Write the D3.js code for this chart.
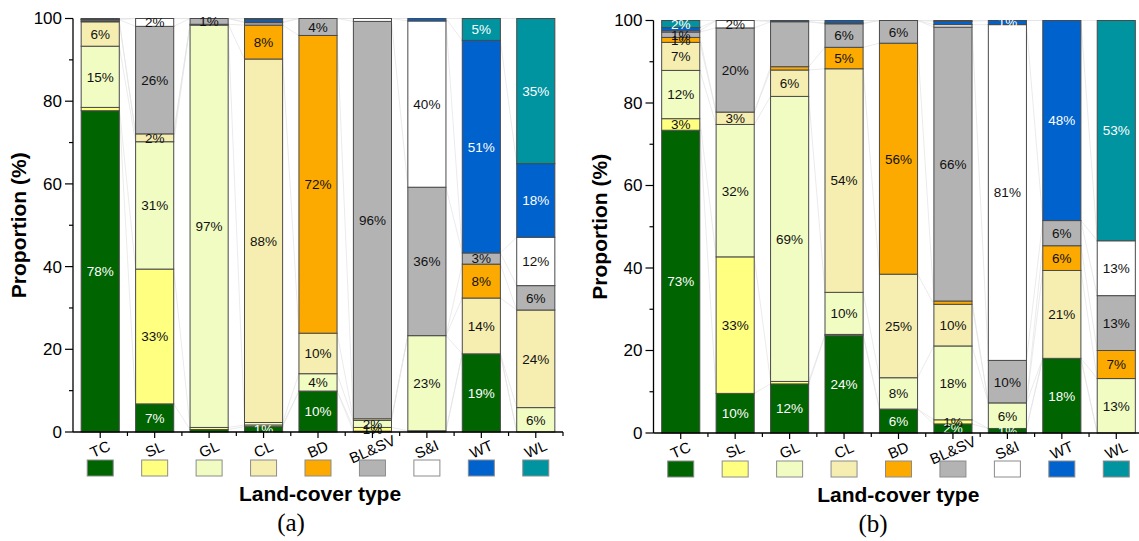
<!DOCTYPE html>
<html>
<head>
<meta charset="utf-8">
<script src="https://cdn.jsdelivr.net/npm/d3@7/dist/d3.min.js"></script>
<style>
  html, body { margin: 0; padding: 0; background: #fff; }
  svg { display: block; font-family: "Liberation Sans", Arial, sans-serif; }
</style>
</head>
<body>
<svg id="chart" width="1139" height="541"></svg>
<script>
// Land-cover classes (bars and stacked segments share the same order)
const types = ["TC", "SL", "GL", "CL", "BD", "BL&SV", "S&I", "WT", "WL"];
const colors = ["#006400", "#ffff80", "#f0fcc2", "#f5eeb0", "#fdaa00", "#b3b3b3", "#ffffff", "#0062cc", "#0093a0"];
const whiteText = ["TC", "WT", "WL"];
const yTicks = [0, 20, 40, 60, 80, 100];

// Panel (a): one row per bar, shares (%) of each class from bottom to top
const shareA = [
  [77.7, 0.8, 14.8, 5.9, 0.2, 0.3, 0.1, 0.1, 0.1],   // TC
  [6.8, 32.6, 30.8, 1.9, 0.0, 26.0, 1.9, 0.0, 0.0],  // SL
  [0.6, 0.5, 97.3, 0.2, 0.0, 1.4, 0.0, 0.0, 0.0],    // GL
  [1.3, 0.4, 0.6, 87.9, 8.2, 0.6, 0.2, 0.7, 0.1],    // CL
  [9.9, 0.0, 4.2, 9.8, 72.0, 4.1, 0.0, 0.0, 0.0],    // BD
  [0.2, 0.9, 1.7, 0.4, 0.0, 96.1, 0.7, 0.0, 0.0],    // BL&SV
  [0.3, 0.0, 23.0, 0.0, 0.0, 35.9, 40.2, 0.6, 0.0],  // S&I
  [18.9, 0.0, 0.0, 13.5, 8.2, 2.7, 0.0, 51.4, 5.3],  // WT
  [0.0, 0.0, 5.9, 23.6, 0.0, 5.9, 11.7, 17.8, 35.1]  // WL
];

// Panel (b)
const shareB = [
  [73.4, 2.8, 11.7, 6.8, 1.2, 1.3, 0.3, 0.8, 1.7],   // TC
  [9.6, 33.1, 32.1, 3.0, 0.0, 20.4, 1.8, 0.0, 0.0],  // SL
  [11.9, 0.6, 69.1, 6.4, 0.8, 10.9, 0.0, 0.3, 0.0],  // GL
  [23.6, 0.3, 10.2, 54.2, 5.2, 5.7, 0.2, 0.6, 0.0],  // CL
  [5.8, 0.0, 7.6, 25.1, 56.0, 5.5, 0.0, 0.0, 0.0],   // BD
  [2.2, 1.0, 17.9, 10.1, 0.8, 66.4, 0.6, 0.8, 0.2],  // BL&SV
  [1.1, 0.0, 6.2, 0.0, 0.0, 10.3, 81.4, 1.0, 0.0],   // S&I
  [18.1, 0.0, 0.0, 21.3, 6.0, 6.1, 0.0, 48.5, 0.0],  // WT
  [0.0, 0.0, 13.2, 0.0, 6.8, 13.3, 13.3, 0.0, 53.4]  // WL
];

// segments left without a value label: [bar, class]
const unlabelledA = [];
const unlabelledB = [["GL", "BL&SV"]];

const svg = d3.select("#chart");

function drawPanel(shares, unlabelled, box, tag) {
  const g = svg.append("g");
  const x = d3.scaleBand().domain(types).range([box.x0, box.x1])
    .paddingInner(0.3).paddingOuter(0.15);
  const y = d3.scaleLinear().domain([0, 100]).range([box.yb, box.yt]);
  const color = d3.scaleOrdinal().domain(types).range(colors);
  const bw = x.bandwidth();

  // stacked table: one record per bar
  const table = types.map((t, i) => {
    const rec = { bar: t };
    types.forEach((c, k) => rec[c] = shares[i][k]);
    return rec;
  });
  const series = d3.stack().keys(types)(table);

  // faint connector lines between tops of the same class in neighbouring bars
  const conn = g.append("g").attr("stroke", "#e2e2e2").attr("stroke-width", 0.7).attr("fill", "none");
  series.forEach(s => {
    for (let i = 0; i < s.length - 1; i++) {
      conn.append("line")
        .attr("x1", x(types[i]) + bw).attr("y1", y(s[i][1]))
        .attr("x2", x(types[i + 1])).attr("y2", y(s[i + 1][1]));
    }
  });

  // bars
  const layers = g.append("g").selectAll("g").data(series).join("g")
    .attr("fill", d => color(d.key));
  layers.selectAll("rect").data(d => d.filter(p => p[1] - p[0] > 0)).join("rect")
    .attr("x", d => x(d.data.bar))
    .attr("y", d => y(d[1]))
    .attr("width", bw)
    .attr("height", d => y(d[0]) - y(d[1]))
    .attr("stroke", "#4a4a4a").attr("stroke-width", 1);

  // value labels
  const isHidden = (bar, cls) => unlabelled.some(u => u[0] === bar && u[1] === cls);
  series.forEach(s => {
    s.forEach(p => {
      const v = p[1] - p[0];
      if (v < 0.9 || isHidden(p.data.bar, s.key)) return;
      g.append("text")
        .attr("x", x(p.data.bar) + bw / 2)
        .attr("y", y((p[0] + p[1]) / 2))
        .attr("dy", "0.36em")
        .attr("text-anchor", "middle")
        .attr("font-size", 13.5)
        .attr("fill", whiteText.includes(s.key) ? "#ffffff" : "#111")
        .text(Math.round(v) + "%");
    });
  });

  // y axis
  const yAxis = g.append("g");
  yAxis.append("line").attr("x1", box.x0).attr("x2", box.x0)
    .attr("y1", y(0)).attr("y2", y(100)).attr("stroke", "#000").attr("stroke-width", 1.3);
  d3.range(0, 101, 10).forEach(v => {
    const major = v % 20 === 0;
    yAxis.append("line").attr("x1", box.x0).attr("x2", box.x0 - (major ? 8 : 4))
      .attr("y1", y(v)).attr("y2", y(v)).attr("stroke", "#000").attr("stroke-width", 1.2);
  });
  yAxis.selectAll("text.tick").data(yTicks).join("text")
    .attr("x", box.x0 - 11).attr("y", d => y(d)).attr("dy", "0.35em")
    .attr("text-anchor", "end").attr("font-size", 17).attr("fill", "#000")
    .text(d => d);

  // x axis
  const xAxis = g.append("g");
  xAxis.append("line").attr("x1", box.x0).attr("x2", box.x1)
    .attr("y1", y(0)).attr("y2", y(0)).attr("stroke", "#000").attr("stroke-width", 1.3);
  const step = x.step();
  types.forEach(t => {
    const cx = x(t) + bw / 2;
    xAxis.append("line").attr("x1", cx).attr("x2", cx)
      .attr("y1", y(0)).attr("y2", y(0) + 6).attr("stroke", "#000").attr("stroke-width", 1.2);
    xAxis.append("line").attr("x1", cx + step / 2).attr("x2", cx + step / 2)
      .attr("y1", y(0)).attr("y2", y(0) + 4).attr("stroke", "#000").attr("stroke-width", 1.2);
    xAxis.append("text")
      .attr("transform", `translate(${cx + 2},${y(0) + 22}) rotate(-24)`)
      .attr("text-anchor", "middle").attr("font-size", 15).attr("fill", "#000")
      .text(t);
    // colour key under each bar
    xAxis.append("rect")
      .attr("x", cx - 13).attr("y", box.yb + 28).attr("width", 26).attr("height", 16)
      .attr("fill", color(t)).attr("stroke", "#8c8c8c").attr("stroke-width", 1);
  });

  // axis titles
  g.append("text")
    .attr("transform", `translate(${box.x0 - 47},${(y(0) + y(100)) / 2}) rotate(-90)`)
    .attr("text-anchor", "middle").attr("font-size", 21).attr("font-weight", "bold")
    .text("Proportion (%)");
  g.append("text")
    .attr("x", (box.x0 + Math.min(box.x1, 1139)) / 2 + 2).attr("y", box.yb + 69)
    .attr("text-anchor", "middle").attr("font-size", 21).attr("font-weight", "bold")
    .text("Land-cover type");
  g.append("text")
    .attr("x", box.tagX).attr("y", box.yb + 99)
    .attr("text-anchor", "middle").attr("font-size", 25)
    .attr("font-family", "'Liberation Serif', 'Times New Roman', serif")
    .text(tag);
}

drawPanel(shareA, unlabelledA, { x0: 73, x1: 563, yb: 432, yt: 18.5, tagX: 291 }, "(a)");
drawPanel(shareB, unlabelledB, { x0: 653.5, x1: 1143.5, yb: 433, yt: 20.5, tagX: 873 }, "(b)");
</script>
</body>
</html>
